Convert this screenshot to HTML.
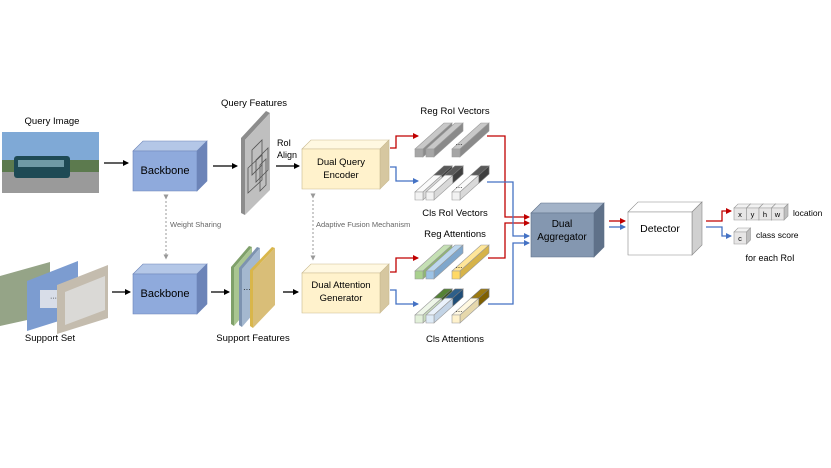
<!DOCTYPE html>
<html><head><meta charset="utf-8"><style>
html,body{margin:0;padding:0;background:#fff;width:831px;height:468px;overflow:hidden}
svg{display:block;font-family:"Liberation Sans",sans-serif}
</style></head><body>
<svg id="s" width="831" height="468" viewBox="0 0 831 468" xmlns="http://www.w3.org/2000/svg">
<defs>
<marker id="ak" markerWidth="6" markerHeight="6" refX="5" refY="3" orient="auto" markerUnits="userSpaceOnUse"><path d="M0,0 L6,3 L0,6z" fill="#000"/></marker>
<marker id="ar" markerWidth="6" markerHeight="6" refX="5" refY="3" orient="auto" markerUnits="userSpaceOnUse"><path d="M0,0 L6,3 L0,6z" fill="#c00000"/></marker>
<marker id="ab" markerWidth="6" markerHeight="6" refX="5" refY="3" orient="auto" markerUnits="userSpaceOnUse"><path d="M0,0 L6,3 L0,6z" fill="#4472c4"/></marker>
<marker id="ag" markerWidth="5" markerHeight="5" refX="2.5" refY="2.5" orient="auto" markerUnits="userSpaceOnUse"><path d="M0,0 L5,2.5 L0,5z" fill="#999"/></marker>
</defs>
<!-- query image -->
<rect x="2" y="132" width="97" height="61" fill="#7fa9d6"/>
<rect x="2" y="170" width="97" height="23" fill="#9a9a9a"/>
<rect x="2" y="160" width="97" height="12" fill="#5c7a4e"/>
<rect x="14" y="156" width="56" height="22" rx="3" fill="#1e4a55"/>
<rect x="18" y="160" width="46" height="7" fill="#6f9aa6"/>
<text x="52" y="124" font-size="9.5" text-anchor="middle">Query Image</text>
<!-- support set -->
<polygon points="0,276 50,262 50,315 0,326" fill="#8a9a7a" opacity="0.9"/>
<polygon points="27,281 78,261 78,315 27,331" fill="#7c9cd0"/>
<rect x="40" y="290" width="25" height="18" fill="#d8dde8"/>
<text x="50" y="300" font-size="7">···</text>
<polygon points="57,285 108,265 108,318 57,334" fill="#c4bcae"/>
<polygon points="65,292 105,276 105,310 65,325" fill="#e0e0e0" opacity="0.8"/>
<text x="50" y="341" font-size="9.5" text-anchor="middle">Support Set</text>
<!-- query features plane -->
<polygon points="241,138 266,111 270,113 245,140 245,215 241,213" fill="#8c8c8c"/>
<polygon points="245,140 270,113 270,190 245,215" fill="#bfbfbf"/>
<g stroke="#555" fill="none" stroke-width="0.8"><polygon points="252,150 262,140 262,165 252,175"/><polygon points="256,160 268,148 268,170 256,182"/><polygon points="248,168 262,155 262,180 248,193"/><polygon points="260,165 266,159 266,185 260,191"/></g>
<text x="254" y="106" font-size="9.5" text-anchor="middle">Query Features</text>
<text x="277" y="146" font-size="9">RoI</text><text x="277" y="158" font-size="9">Align</text>
<!-- support feature planes -->
<polygon points="231,267 249,246 252,247 234,268 234,326 231,324" fill="#7fa06a"/>
<polygon points="234,268 252,247 252,305 234,326" fill="#a9c591"/>
<polygon points="239,268 257,247 260,248 242,269 242,327 239,325" fill="#7d93b0"/>
<polygon points="242,269 260,248 260,306 242,327" fill="#a4b8cf"/>
<text x="243" y="292" font-size="8">···</text>
<polygon points="250,270 272,247 275,248 253,271 253,328 250,326" fill="#d9b64a"/>
<polygon points="253,271 275,248 275,305 253,328" fill="#d9be78"/>
<text x="253" y="341" font-size="9.5" text-anchor="middle">Support Features</text>
<!-- dotted -->
<line x1="166" y1="197" x2="166" y2="257" stroke="#999" stroke-dasharray="2,2" marker-start="url(#ag)" marker-end="url(#ag)"/>
<text x="170" y="227" font-size="7.5" fill="#666">Weight Sharing</text>
<line x1="313" y1="196" x2="313" y2="258" stroke="#999" stroke-dasharray="2,2" marker-start="url(#ag)" marker-end="url(#ag)"/>
<text x="316" y="227" font-size="7.5" fill="#666">Adaptive Fusion Mechanism</text>
<g id="cubes"></g>
<!-- black arrows -->
<g stroke="#000" stroke-width="1.3" marker-end="url(#ak)">
<line x1="104" y1="163" x2="128" y2="163"/><line x1="213" y1="166" x2="237" y2="166"/>
<line x1="276" y1="166" x2="299" y2="166"/>
<line x1="112" y1="292" x2="130" y2="292"/><line x1="211" y1="292" x2="229" y2="292"/>
<line x1="283" y1="292" x2="298" y2="292"/>
</g>
<g fill="none" stroke-width="1.3">
<polyline points="390,148 396,148 396,136 418,136" stroke="#c00000" marker-end="url(#ar)"/>
<polyline points="390,167 396,167 396,181 418,181" stroke="#4472c4" marker-end="url(#ab)"/>
<polyline points="390,272 396,272 396,258 418,258" stroke="#c00000" marker-end="url(#ar)"/>
<polyline points="390,290 396,290 396,304 418,304" stroke="#4472c4" marker-end="url(#ab)"/>
<polyline points="487,136 505,136 505,217 529,217" stroke="#c00000" marker-end="url(#ar)"/>
<polyline points="488,258 505,258 505,223 529,223" stroke="#c00000" marker-end="url(#ar)"/>
<polyline points="487,182 513,182 513,236 529,236" stroke="#4472c4" marker-end="url(#ab)"/>
<polyline points="488,304 513,304 513,243 529,243" stroke="#4472c4" marker-end="url(#ab)"/>
<line x1="609" y1="221" x2="625" y2="221" stroke="#c00000" marker-end="url(#ar)"/>
<line x1="609" y1="227" x2="625" y2="227" stroke="#4472c4" marker-end="url(#ab)"/>
<polyline points="706,221 722,221 722,211 731,211" stroke="#c00000" marker-end="url(#ar)"/>
<polyline points="706,227 722,227 722,236 731,236" stroke="#4472c4" marker-end="url(#ab)"/>
</g>
<text x="455" y="114" font-size="9.5" text-anchor="middle">Reg RoI Vectors</text>
<text x="455" y="216" font-size="9.5" text-anchor="middle">Cls RoI Vectors</text>
<text x="455" y="237" font-size="9.5" text-anchor="middle">Reg Attentions</text>
<text x="455" y="342" font-size="9.5" text-anchor="middle">Cls Attentions</text>
<text x="793" y="216" font-size="8.5">location</text>
<text x="756" y="238" font-size="8.5">class score</text>
<text x="770" y="261" font-size="9" text-anchor="middle">for each RoI</text>
</svg>
<script>
var g=document.getElementById('cubes'),NS='http://www.w3.org/2000/svg';
function P(pts,f,s){var p=document.createElementNS(NS,'polygon');p.setAttribute('points',pts.map(function(a){return a.join(',')}).join(' '));p.setAttribute('fill',f);if(s){p.setAttribute('stroke',s);p.setAttribute('stroke-width','0.6');}g.appendChild(p);}
function T(x,y,t,fs,c){var e=document.createElementNS(NS,'text');e.setAttribute('x',x);e.setAttribute('y',y);e.setAttribute('font-size',fs);e.setAttribute('text-anchor','middle');if(c)e.setAttribute('fill',c);e.textContent=t;g.appendChild(e);}
function cube(x,y,w,h,d,ff,tf,sf,st){
 P([[x,y+d],[x+d,y],[x+w+d,y],[x+w,y+d]],tf,st);
 P([[x+w,y+d],[x+w+d,y],[x+w+d,y+h],[x+w,y+d+h]],sf,st);
 P([[x,y+d],[x+w,y+d],[x+w,y+d+h],[x,y+d+h]],ff,st);
}
cube(133,141,64,40,10,'#8faadc','#b4c7e7','#6c84b8','#6c84b8');T(165,174,'Backbone',11);
cube(133,264,64,40,10,'#8faadc','#b4c7e7','#6c84b8','#6c84b8');T(165,297,'Backbone',11);
cube(302,140,78,40,9,'#fff2cc','#fff8e1','#d6c7a0','#c9b98f');T(341,165,'Dual Query',9.5);T(341,178,'Encoder',9.5);
cube(302,264,78,40,9,'#fff2cc','#fff8e1','#d6c7a0','#c9b98f');T(341,288,'Dual Attention',9.5);T(341,301,'Generator',9.5);
cube(531,203,63,44,10,'#8497b0','#a3b3c8','#5f7189','#5f7189');T(562,227,'Dual',10);T(562,240,'Aggregator',10);
cube(628,202,64,43,10,'#ffffff','#ffffff','#d0d0d0','#888');T(660,232,'Detector',10.5);
['x','y','h','w'].forEach(function(c,i){cube(734+i*12.5,204,12.5,12,4,'#e7e6e6','#f2f2f2','#bfbfbf','#999');T(740+i*12.5,217,c,7.5);});
cube(734,228,12.5,12,4,'#e7e6e6','#f2f2f2','#bfbfbf','#999');T(740,241,'c',7.5);
function bar(x,y,s,dx,dy,front,top,side,dark,dtop,dside){
 P([[x,y],[x+dx,y-dy],[x+dx+s,y-dy],[x+s,y]],top,'#999');
 P([[x+s,y],[x+s+dx,y-dy],[x+s+dx,y-dy+s],[x+s,y+s]],side,'#999');
 if(dark){var t=0.65,ax=x+dx*t,ay=y-dy*t;
  P([[ax,ay],[x+dx,y-dy],[x+dx+s,y-dy],[ax+s,ay]],dtop,'#777');
  P([[ax+s,ay],[x+s+dx,y-dy],[x+s+dx,y-dy+s],[ax+s,ay+s]],dside,'#777');}
 P([[x,y],[x+s,y],[x+s,y+s],[x,y+s]],front,'#999');
}
function row(y,cols,dark){var xs=[415,426,452];xs.forEach(function(x,i){var c=cols[i];bar(x,y,8,29,26,c[0],c[1],c[2],dark,c[3],c[4]);});}
var g1=['#a6a6a6','#c8c8c8','#8a8a8a'];row(149,[g1,g1,g1]);T(459,145,'...',8);
var w1=['#f2f2f2','#fafafa','#d9d9d9','#595959','#3f3f3f'];row(192,[w1,w1,w1],true);T(459,188,'...',8);
row(271,[['#a9d18e','#c5e0b4','#8fb872'],['#9dc3e6','#bdd7ee','#7fa7cc'],['#ffd966','#ffe699','#d6b34a']]);T(459,268,'...',8);
row(315,[['#e2f0d9','#eef6e8','#c8dcbc','#548235','#385723'],['#deebf7','#eaf2fb','#c3d4e6','#2e5f8a','#1f4e79'],['#fff2cc','#fff8e1','#e6d8ac','#9c7a10','#7f6000']],true);T(459,312,'...',8);
</script>
</body></html>
